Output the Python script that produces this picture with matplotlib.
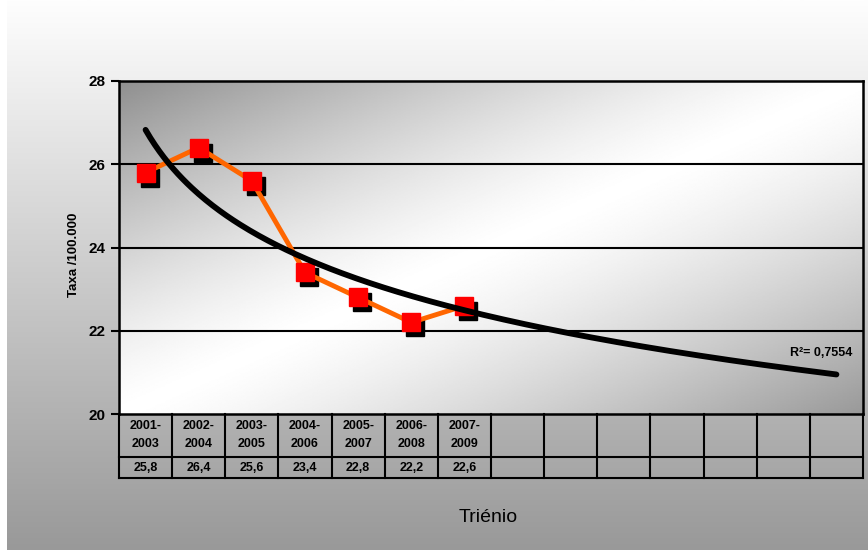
import numpy as np
import matplotlib.pyplot as plt
from matplotlib import transforms
from matplotlib.colors import LinearSegmentedColormap

# ── data ─────────────────────────────────────────────────────────
trienios = ["2001-2003", "2002-2004", "2003-2005", "2004-2006",
            "2005-2007", "2006-2008", "2007-2009"]
taxas = [25.8, 26.4, 25.6, 23.4, 22.8, 22.2, 22.6]
n_cols = 14                      # table keeps empty columns for future triennia
y_ticks = [20, 22, 24, 26, 28]
r2 = 0.7554

plt.rcParams["font.family"] = ["Liberation Sans", "DejaVu Sans"]

W, H = 868, 550
fig = plt.figure(figsize=(W / 100, H / 100), dpi=100)
fig.patch.set_facecolor("white")

# ── chart area background: vertical white -> grey fade ───────────
bg = fig.add_axes([7 / W, 0, 1 - 7 / W, 1], zorder=-5)
bg_cmap = LinearSegmentedColormap.from_list("bg", ["#fefefe", "#999999"])
bg.imshow(np.linspace(0, 1, 256).reshape(-1, 1), aspect="auto", cmap=bg_cmap,
          extent=[0, 1, 0, 1], origin="upper")
bg.axis("off")

# ── plot area ────────────────────────────────────────────────────
ax = fig.add_axes([119 / W, 136 / H, 744 / W, 333 / H])
ax.set_xlim(0.5, n_cols + 0.5)
ax.set_ylim(y_ticks[0], y_ticks[-1])

# diagonal fill: grey corners top-left / bottom-right, white across the middle
U, V = np.meshgrid(np.linspace(0, 1, 400), np.linspace(0, 1, 250))
t = (U + V) / 2
d = np.abs(t - 0.5) * 2
dark = np.where(t < 0.5, 0.44, 0.40)
shade = 1 - dark * d ** 1.3
ax.imshow(shade, extent=[0.5, n_cols + 0.5, y_ticks[0], y_ticks[-1]], aspect="auto",
          origin="upper", cmap="gray", vmin=0, vmax=1, zorder=0)

for yv in y_ticks[1:-1]:
    ax.axhline(yv, color="black", lw=1.5, zorder=1)

for sp in ax.spines.values():
    sp.set_linewidth(1.8)
ax.set_xticks([])
ax.set_yticks(y_ticks)
ax.tick_params(axis="y", direction="out", length=6, width=1.5, labelsize=11, pad=4)
for lab in ax.get_yticklabels():
    lab.set_fontweight("bold")

x = np.arange(1, len(taxas) + 1)

# marker shadow, series line, markers
shadow = transforms.offset_copy(ax.transData, fig=fig, x=4, y=-5, units="dots")
ax.plot(x, taxas, ls="none", marker="s", ms=13, color="black", transform=shadow, zorder=3)
ax.plot(x, taxas, color="#ff6600", lw=3.5, zorder=4)
ax.plot(x, taxas, ls="none", marker="s", ms=13, mfc="#ff0000", mec="#ff0000", zorder=5)

# logarithmic trend line over the whole table width
a, b = np.polyfit(np.log(x), taxas, 1)
xt = np.linspace(1, n_cols, 300)
ax.plot(xt, a * np.log(xt) + b, color="black", lw=4.2, zorder=6, solid_capstyle="round")
ax.text(14.3, 21.47, "R²= " + f"{r2:.4f}".replace(".", ","), ha="right", va="center",
        fontsize=9, fontweight="bold", zorder=7)

fig.text(74 / W, 1 - 255 / H, "Taxa /100.000", rotation=90, ha="center", va="center",
         fontsize=9.5, fontweight="bold")

# ── data table under the axis ────────────────────────────────────
tab = fig.add_axes([119 / W, 72 / H, 744 / W, 64 / H])
tab.set_xlim(0.5, n_cols + 0.5)
tab.set_ylim(64, 0)
tab.axis("off")
for k in range(n_cols + 1):
    tab.plot([k + 0.5, k + 0.5], [0, 64], color="black", lw=1.5, clip_on=False)
for yy in (43, 64):
    tab.plot([0.5, n_cols + 0.5], [yy, yy], color="black", lw=1.5, clip_on=False)

for i, (per, val) in enumerate(zip(trienios, taxas)):
    ini, fim = per.split("-")
    tab.text(i + 1, 12, ini + "-", ha="center", va="center", fontsize=9, fontweight="bold")
    tab.text(i + 1, 30, fim, ha="center", va="center", fontsize=9, fontweight="bold")
    tab.text(i + 1, 54, f"{val:.1f}".replace(".", ","), ha="center", va="center",
             fontsize=9, fontweight="bold")

fig.text(488 / W, 1 - 518 / H, "Triénio", ha="center", va="center", fontsize=14)

fig.savefig("out.png", dpi=100)
